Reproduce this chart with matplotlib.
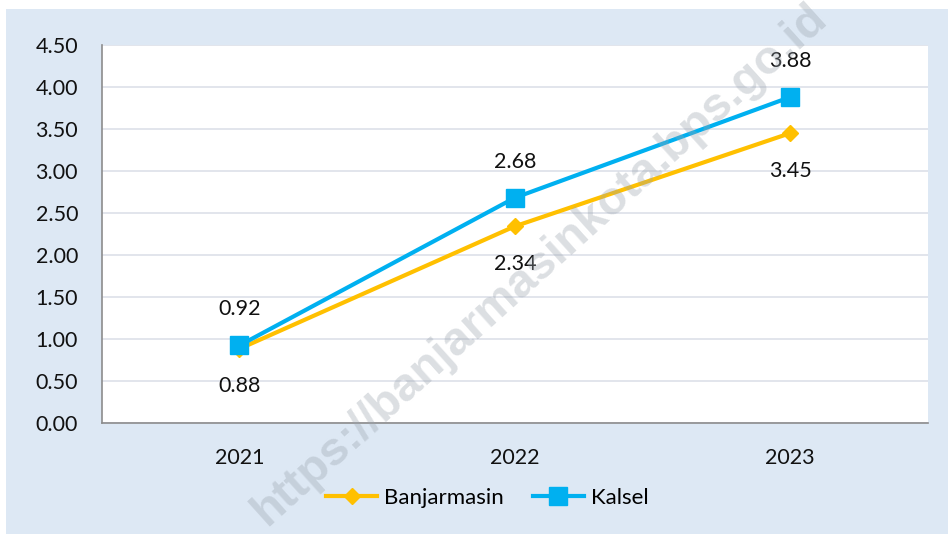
import matplotlib
matplotlib.use("Agg")
import matplotlib.pyplot as plt
from matplotlib.patches import Rectangle

years = ["2021", "2022", "2023"]
banjarmasin = [0.88, 2.34, 3.45]
kalsel = [0.92, 2.68, 3.88]
y_ticks = [0.0, 0.5, 1.0, 1.5, 2.0, 2.5, 3.0, 3.5, 4.0, 4.5]

plt.rcParams["font.family"] = ["Lato", "DejaVu Sans"]

fig = plt.figure(figsize=(9.48, 5.34), dpi=100)
fig.patch.set_facecolor("white")
fig.patches.append(Rectangle((6 / 948, 0), 1, (534 - 9) / 534,
                             transform=fig.transFigure, facecolor="#dde8f4",
                             edgecolor="none", zorder=-5))

ax = fig.add_axes([101.7 / 948, 1 - 422.7 / 534, (928 - 101.7) / 948, (422.7 - 45) / 534])
ax.set_facecolor("white")

x = list(range(len(years)))
ax.plot(x, banjarmasin, color="#FFC000", lw=3, marker="D", ms=8,
        label="Banjarmasin", zorder=3)
ax.plot(x, kalsel, color="#00B0F0", lw=3, marker="s", ms=13,
        label="Kalsel", zorder=4)

for xi, v in zip(x, kalsel):
    ax.annotate(f"{v:.2f}", (xi, v), xytext=(0, 26), textcoords="offset points",
                ha="center", va="center", fontsize=15.5, color="#111111")
for xi, v in zip(x, banjarmasin):
    ax.annotate(f"{v:.2f}", (xi, v), xytext=(0, -27), textcoords="offset points",
                ha="center", va="center", fontsize=15.5, color="#111111")

ax.set_xlim(-0.5, 2.5)
ax.set_ylim(0, 4.5)
ax.set_yticks(y_ticks)
ax.set_yticklabels([f"{t:.2f}" for t in y_ticks])
ax.set_xticks(x)
ax.set_xticklabels(years)
ax.tick_params(axis="both", length=0, labelsize=15.5, colors="#111111")
ax.tick_params(axis="y", pad=17)
ax.tick_params(axis="x", pad=18)
ax.grid(axis="y", color="#dfe3ea", lw=1.3)
ax.set_axisbelow(True)
for s in ("top", "right"):
    ax.spines[s].set_visible(False)
for s in ("left", "bottom"):
    ax.spines[s].set_color("#8c8c8c")
    ax.spines[s].set_linewidth(1.2)

leg = fig.legend(loc="center", bbox_to_anchor=(0.514, 1 - 498 / 534), ncol=2,
                 frameon=False, fontsize=16, handlelength=2.3,
                 columnspacing=1.3, handletextpad=0.3)

fig.text(0.57, 0.505, "https://banjarmasinkota.bps.go.id",
         family="Liberation Sans", fontweight="bold", fontsize=34,
         rotation=42, ha="center", va="center", color="#9aa3ad", alpha=0.35,
         zorder=10)

fig.savefig("out.png", dpi=100, facecolor=fig.get_facecolor())
